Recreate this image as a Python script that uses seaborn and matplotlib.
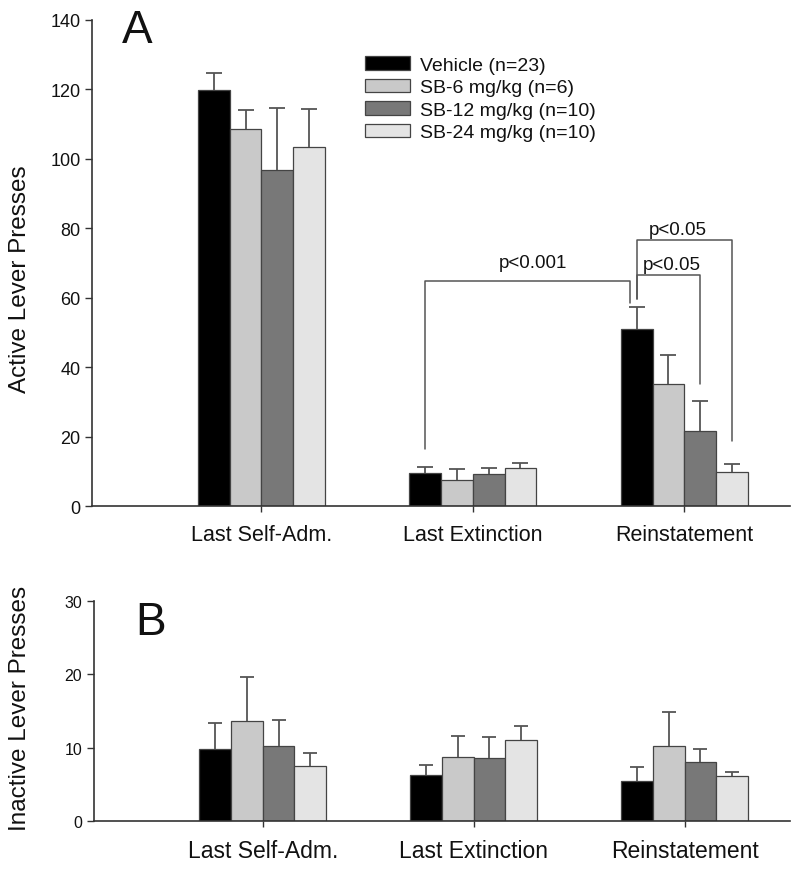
"""
Active / inactive lever presses, reinstatement study (panels A and B)
"""
import numpy as np
import pandas as pd
import matplotlib
matplotlib.use('Agg')
import matplotlib.pyplot as plt
import seaborn as sns

# ---- data ----
phases = ['Last Self-Adm.', 'Last Extinction', 'Reinstatement']
groups = ['Vehicle (n=23)', 'SB-6 mg/kg (n=6)', 'SB-12 mg/kg (n=10)', 'SB-24 mg/kg (n=10)']

active_vehicle = [119.7, 9.6, 51.0]
active_sb6 = [108.5, 7.6, 35.1]
active_sb12 = [96.8, 9.3, 21.8]
active_sb24 = [103.3, 10.9, 9.8]
active_sem_vehicle = [5.0, 1.8, 6.3]
active_sem_sb6 = [5.5, 3.0, 8.3]
active_sem_sb12 = [17.9, 1.8, 8.6]
active_sem_sb24 = [11.1, 1.7, 2.4]

inactive_vehicle = [9.8, 6.3, 5.5]
inactive_sb6 = [13.6, 8.8, 10.2]
inactive_sb12 = [10.2, 8.6, 8.1]
inactive_sb24 = [7.5, 11.0, 6.2]
inactive_sem_vehicle = [3.6, 1.4, 1.9]
inactive_sem_sb6 = [6.0, 2.8, 4.7]
inactive_sem_sb12 = [3.6, 2.8, 1.7]
inactive_sem_sb24 = [1.8, 2.0, 0.5]

# significance brackets: (label, leg heights left/top/right)
bracket_p001 = ('p<0.001', [16.5, 64.7, 58.6])
bracket_p05_low = ('p<0.05', [59.6, 66.5, 35.3])
bracket_p05_high = ('p<0.05', [59.6, 76.7, 18.7])

colors = ['#000000', '#c9c9c9', '#787878', '#e4e4e4']


def long_table(values, sems):
    rows = []
    for g, vals, errs in zip(groups, values, sems):
        for p, v, e in zip(phases, vals, errs):
            rows.append({'phase': p, 'group': g, 'value': v, 'sem': e})
    return pd.DataFrame(rows)


df_active = long_table([active_vehicle, active_sb6, active_sb12, active_sb24],
                       [active_sem_vehicle, active_sem_sb6, active_sem_sb12, active_sem_sb24])
df_inactive = long_table([inactive_vehicle, inactive_sb6, inactive_sb12, inactive_sb24],
                         [inactive_sem_vehicle, inactive_sem_sb6, inactive_sem_sb12, inactive_sem_sb24])

sns.set_style('ticks')
plt.rcParams['font.family'] = ['Liberation Sans', 'DejaVu Sans']
plt.rcParams['text.color'] = '#111111'
plt.rcParams['axes.labelcolor'] = '#111111'

fig = plt.figure(figsize=(8, 8.7), dpi=100)
axA = fig.add_axes([0.1154, 0.4169, 0.8721, 0.5593])
axB = fig.add_axes([0.1175, 0.0548, 0.8700, 0.2536])


def draw_panel(ax, df, capsize):
    sns.barplot(data=df, x='phase', y='value', hue='group', hue_order=groups,
                order=phases, palette=colors, saturation=1, width=0.6, gap=0,
                edgecolor='#444444', linewidth=0.9, errorbar=None, ax=ax)
    # upper-only SEM bars, positioned on the drawn bars
    for cont, g in zip(ax.containers, groups):
        sub = df[df['group'] == g].set_index('phase').loc[phases]
        xs = [b.get_x() + b.get_width() / 2 for b in cont]
        tops = [b.get_height() for b in cont]
        eb = ax.errorbar(xs, tops, yerr=[np.zeros(len(xs)), sub['sem'].values],
                         fmt='none', ecolor='#555555', elinewidth=1.3,
                         capsize=capsize, capthick=1.3, zorder=1)
        # drop the lower caps (they would sit on the bar tops)
        eb[1][0].set_visible(False)
    for s in ['top', 'right']:
        ax.spines[s].set_visible(False)
    for s in ['left', 'bottom']:
        ax.spines[s].set_color('#333333')
        ax.spines[s].set_linewidth(1.2)
    ax.set_xlim(-0.8, 2.5)
    ax.set_xlabel('')
    ax.tick_params(axis='y', length=5, width=1, color='#333333', labelcolor='#111111')
    ax.tick_params(axis='x', length=4.5, width=1, color='#333333', pad=8,
                   labelcolor='#111111')


draw_panel(axA, df_active, capsize=6)
draw_panel(axB, df_inactive, capsize=5)

# ---- panel A ----
axA.set_ylim(0, 140)
axA.set_yticks(range(0, 141, 20))
axA.tick_params(axis='y', labelsize=13)
axA.tick_params(axis='x', labelsize=15.5)
axA.set_ylabel('Active Lever Presses', fontsize=17.5)
axA.yaxis.set_label_coords(-0.104, 0.469)
axA.yaxis.label.set_verticalalignment('center')
axA.legend(loc='upper left', bbox_to_anchor=(0.391, 0.925), frameon=False,
           fontsize=14, handlelength=2.3, handleheight=0.7, labelspacing=0.25,
           handletextpad=0.5, borderpad=0, borderaxespad=0)

# brackets from bar centres
vx = [b.get_x() + b.get_width() / 2 for b in axA.containers[0]]
dark_x = axA.containers[2][2].get_x() + axA.containers[2][2].get_width() / 2
light_x = axA.containers[3][2].get_x() + axA.containers[3][2].get_width() / 2
line_kw = dict(color='#555555', lw=1.1)

lab, (yl, yt, yr) = bracket_p001
xl, xr = vx[1], vx[2] - 0.032
axA.plot([xl, xl, xr, xr], [yl, yt, yt, yr], **line_kw)
axA.text(1.282, yt + 3.0, lab, ha='center', va='bottom', fontsize=13.5)

lab, (yl, yt, yr) = bracket_p05_low
axA.plot([vx[2], vx[2], dark_x, dark_x], [yl, yt, yt, yr], **line_kw)
axA.text(1.94, yt + 0.6, lab, ha='center', va='bottom', fontsize=13.5)

lab, (yl, yt, yr) = bracket_p05_high
axA.plot([vx[2], vx[2], light_x, light_x], [yl, yt, yt, yr], **line_kw)
axA.text(1.97, yt + 0.6, lab, ha='center', va='bottom', fontsize=13.5)

fig.text(0.1525, 0.9506, 'A', fontsize=33, va='baseline', ha='left')

# ---- panel B ----
axB.set_ylim(0, 30)
axB.set_yticks(range(0, 31, 10))
axB.tick_params(axis='y', labelsize=11.5)
axB.tick_params(axis='x', labelsize=16.5)
for t in axB.get_xticklabels():
    t.set_family(['Liberation Sans Narrow', 'Liberation Sans', 'DejaVu Sans'])
axB.set_ylabel('Inactive Lever Presses', fontsize=17.5)
axB.yaxis.set_label_coords(-0.106, 0.514)
axB.yaxis.label.set_verticalalignment('center')
axB.get_legend().remove()

fig.text(0.169, 0.2701, 'B', fontsize=33, va='baseline', ha='left')

fig.savefig('out.png', dpi=100)
